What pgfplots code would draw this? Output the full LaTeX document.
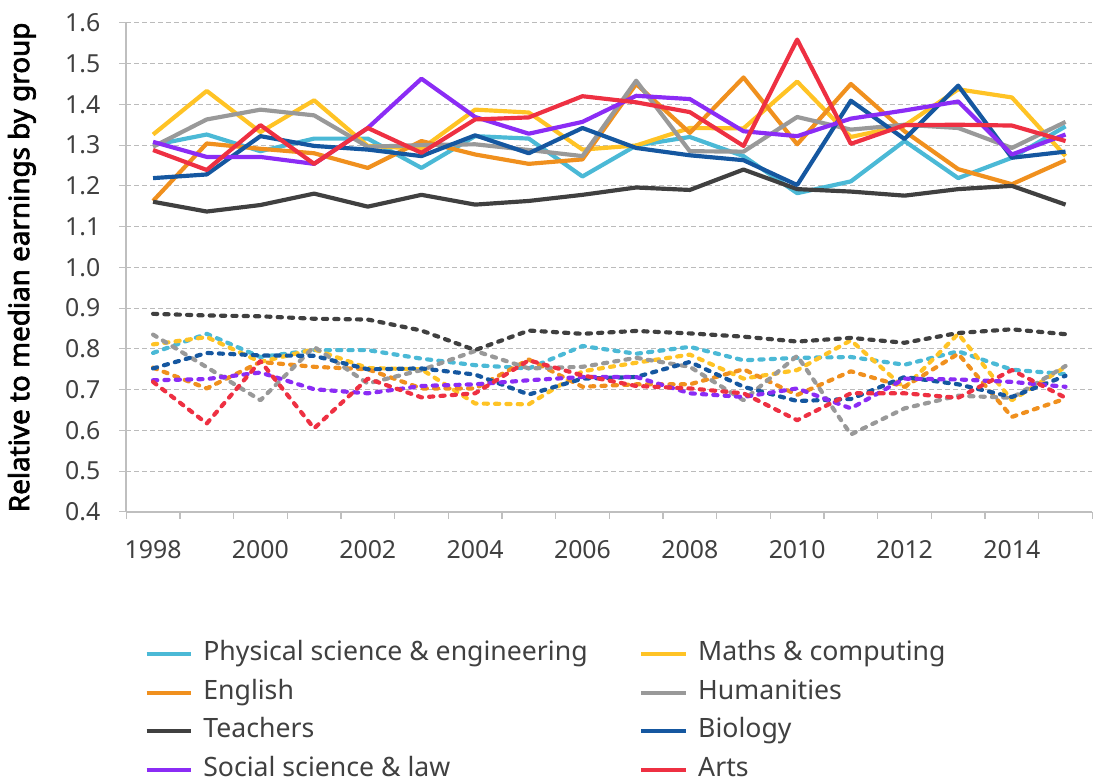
\documentclass[border=0pt]{standalone}
\usepackage{fontspec}
\setmainfont{Noto Sans}
\newfontfamily\labfont{Noto Sans}[FakeBold=2.5]
\usepackage{pgfplots}
\pgfplotsset{compat=1.18}
\definecolor{cphys}{HTML}{4BB9D6}
\definecolor{cmath}{HTML}{FFC325}
\definecolor{ceng}{HTML}{F0901E}
\definecolor{chum}{HTML}{999999}
\definecolor{cteach}{HTML}{404040}
\definecolor{cbio}{HTML}{1557A0}
\definecolor{csoc}{HTML}{8B2CF5}
\definecolor{carts}{HTML}{EE3042}
\definecolor{ctxt}{HTML}{404040}
\definecolor{cgrid}{HTML}{BBBBBB}
\definecolor{caxis}{HTML}{BFBFBF}
\pgfplotsset{sol/.style={line width=2.1pt, line join=round},
  dsh/.style={line width=2.1pt, line join=round, line cap=round, dash pattern=on 2.1pt off 3.6pt, forget plot}}
\begin{document}
\begin{tikzpicture}[font=\fontsize{12.5}{15}\selectfont]
\begin{axis}[
  scale only axis, width=486pt, height=246pt,
  xmin=1997.5, xmax=2015.5, ymin=0.4, ymax=1.6,
  axis x line=bottom, axis y line=left,
  axis line style={-, draw=caxis, line width=0.8pt},
  tick align=outside, major tick length=3.5pt,
  tick style={draw=caxis, line width=0.6pt},
  xtick={1997.5,1998.5,...,2015.6},
  xticklabels={},
  extra x ticks={1998,2000,...,2014},
  extra x tick style={major tick length=0pt, grid=none},
  extra x tick labels={1998,2000,2002,2004,2006,2008,2010,2012,2014},
  x tick label style={yshift=-11pt, text=ctxt},
  ytick={0.4,0.5,...,1.65},
  /pgf/number format/fixed, /pgf/number format/fixed zerofill, /pgf/number format/precision=1, /pgf/number format/assume math mode=true,
  y tick label style={text=ctxt, xshift=-6pt},
  ymajorgrids, grid style={draw=cgrid, line width=0.6pt, dash pattern=on 2.5pt off 1.5pt},
  ylabel={\labfont\fontsize{14}{16}\selectfont Relative to median earnings by group},
  ylabel style={text=ctxt},
  every axis y label/.style={at={(axis description cs:-0.108,0.5)}, rotate=90, anchor=center},
  legend columns=2,
  legend cell align=left,
  legend style={at={(axis description cs:0.0185,-0.2640)}, anchor=north west, draw=none, fill=none, inner sep=0pt,
    font=\fontsize{13.4}{16}\selectfont,
    nodes={inner sep=0pt, text height=9.5pt, text depth=3pt, text=ctxt},
    row sep=7.0pt,
    /tikz/every odd column/.append style={column sep=5pt},
    /tikz/every even column/.append style={column sep=26pt}},
  legend image code/.code={\draw[#1, line width=2.1pt] (0pt,0pt) -- (22.5pt,0pt);},
]
% dashed series
\addplot[cphys, dsh] coordinates {(1998,0.790)(1999,0.837)(2000,0.780)(2001,0.797)(2002,0.797)(2003,0.776)(2004,0.760)(2005,0.752)(2006,0.807)(2007,0.788)(2008,0.805)(2009,0.772)(2010,0.778)(2011,0.780)(2012,0.761)(2013,0.794)(2014,0.749)(2015,0.738)};
\addplot[cmath, dsh] coordinates {(1998,0.811)(1999,0.829)(2000,0.768)(2001,0.799)(2002,0.753)(2003,0.750)(2004,0.666)(2005,0.664)(2006,0.745)(2007,0.766)(2008,0.786)(2009,0.727)(2010,0.748)(2011,0.821)(2012,0.704)(2013,0.837)(2014,0.674)(2015,0.756)};
\addplot[ceng, dsh] coordinates {(1998,0.754)(1999,0.703)(2000,0.768)(2001,0.756)(2002,0.750)(2003,0.703)(2004,0.703)(2005,0.774)(2006,0.707)(2007,0.713)(2008,0.713)(2009,0.750)(2010,0.687)(2011,0.745)(2012,0.707)(2013,0.788)(2014,0.633)(2015,0.678)};
\addplot[chum, dsh] coordinates {(1998,0.835)(1999,0.755)(2000,0.674)(2001,0.805)(2002,0.715)(2003,0.748)(2004,0.795)(2005,0.752)(2006,0.756)(2007,0.778)(2008,0.756)(2009,0.674)(2010,0.783)(2011,0.590)(2012,0.654)(2013,0.685)(2014,0.680)(2015,0.758)};
\addplot[cteach, dsh] coordinates {(1998,0.886)(1999,0.882)(2000,0.880)(2001,0.874)(2002,0.872)(2003,0.845)(2004,0.797)(2005,0.845)(2006,0.837)(2007,0.844)(2008,0.838)(2009,0.830)(2010,0.818)(2011,0.827)(2012,0.815)(2013,0.839)(2014,0.848)(2015,0.836)};
\addplot[cbio, dsh] coordinates {(1998,0.752)(1999,0.790)(2000,0.784)(2001,0.783)(2002,0.750)(2003,0.752)(2004,0.737)(2005,0.688)(2006,0.727)(2007,0.731)(2008,0.768)(2009,0.707)(2010,0.672)(2011,0.677)(2012,0.731)(2013,0.713)(2014,0.682)(2015,0.734)};
\addplot[csoc, dsh] coordinates {(1998,0.723)(1999,0.726)(2000,0.742)(2001,0.701)(2002,0.691)(2003,0.709)(2004,0.713)(2005,0.723)(2006,0.731)(2007,0.731)(2008,0.691)(2009,0.682)(2010,0.703)(2011,0.654)(2012,0.727)(2013,0.725)(2014,0.719)(2015,0.707)};
\addplot[carts, dsh] coordinates {(1998,0.719)(1999,0.617)(2000,0.770)(2001,0.605)(2002,0.727)(2003,0.681)(2004,0.691)(2005,0.772)(2006,0.735)(2007,0.709)(2008,0.703)(2009,0.691)(2010,0.625)(2011,0.691)(2012,0.691)(2013,0.680)(2014,0.748)(2015,0.680)};
% solid series
\addplot[cphys, sol] coordinates {(1998,1.300)(1999,1.326)(2000,1.285)(2001,1.316)(2002,1.316)(2003,1.244)(2004,1.322)(2005,1.316)(2006,1.223)(2007,1.299)(2008,1.320)(2009,1.273)(2010,1.182)(2011,1.211)(2012,1.310)(2013,1.219)(2014,1.269)(2015,1.346)};
\addlegendentry{Physical science \& engineering}
\addplot[cmath, sol] coordinates {(1998,1.326)(1999,1.433)(2000,1.332)(2001,1.410)(2002,1.298)(2003,1.291)(2004,1.387)(2005,1.380)(2006,1.289)(2007,1.299)(2008,1.342)(2009,1.341)(2010,1.456)(2011,1.320)(2012,1.348)(2013,1.437)(2014,1.417)(2015,1.273)};
\addlegendentry{Maths \& computing}
\addplot[ceng, sol] coordinates {(1998,1.163)(1999,1.304)(2000,1.291)(2001,1.280)(2002,1.244)(2003,1.310)(2004,1.277)(2005,1.254)(2006,1.265)(2007,1.450)(2008,1.330)(2009,1.466)(2010,1.302)(2011,1.450)(2012,1.334)(2013,1.241)(2014,1.204)(2015,1.263)};
\addlegendentry{English}
\addplot[chum, sol] coordinates {(1998,1.296)(1999,1.363)(2000,1.387)(2001,1.373)(2002,1.296)(2003,1.300)(2004,1.302)(2005,1.288)(2006,1.273)(2007,1.458)(2008,1.285)(2009,1.284)(2010,1.369)(2011,1.338)(2012,1.350)(2013,1.342)(2014,1.293)(2015,1.357)};
\addlegendentry{Humanities}
\addplot[cteach, sol] coordinates {(1998,1.161)(1999,1.137)(2000,1.153)(2001,1.181)(2002,1.149)(2003,1.178)(2004,1.154)(2005,1.163)(2006,1.178)(2007,1.196)(2008,1.190)(2009,1.240)(2010,1.192)(2011,1.186)(2012,1.176)(2013,1.192)(2014,1.200)(2015,1.154)};
\addlegendentry{Teachers}
\addplot[cbio, sol] coordinates {(1998,1.219)(1999,1.228)(2000,1.322)(2001,1.298)(2002,1.289)(2003,1.273)(2004,1.324)(2005,1.280)(2006,1.342)(2007,1.293)(2008,1.275)(2009,1.263)(2010,1.202)(2011,1.409)(2012,1.315)(2013,1.446)(2014,1.269)(2015,1.284)};
\addlegendentry{Biology}
\addplot[csoc, sol] coordinates {(1998,1.308)(1999,1.271)(2000,1.271)(2001,1.254)(2002,1.342)(2003,1.463)(2004,1.369)(2005,1.328)(2006,1.357)(2007,1.421)(2008,1.413)(2009,1.334)(2010,1.322)(2011,1.365)(2012,1.385)(2013,1.407)(2014,1.277)(2015,1.326)};
\addlegendentry{Social science \& law}
\addplot[carts, sol] coordinates {(1998,1.288)(1999,1.239)(2000,1.349)(2001,1.254)(2002,1.342)(2003,1.281)(2004,1.363)(2005,1.368)(2006,1.420)(2007,1.405)(2008,1.381)(2009,1.298)(2010,1.559)(2011,1.303)(2012,1.349)(2013,1.350)(2014,1.348)(2015,1.310)};
\addlegendentry{Arts}
\end{axis}
\path[use as bounding box] (-63.5pt,-132pt) rectangle (486pt,257.5pt);
\end{tikzpicture}
\end{document}
